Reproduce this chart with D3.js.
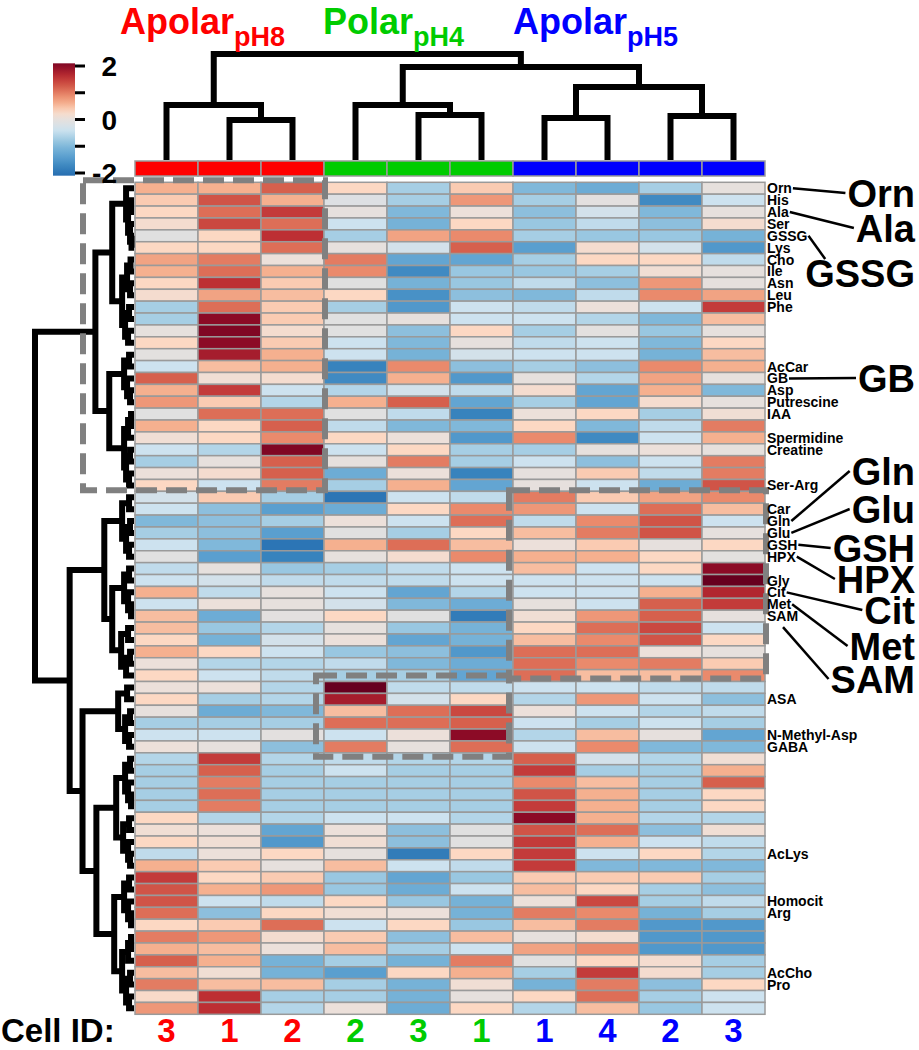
<!DOCTYPE html>
<html><head><meta charset="utf-8">
<script src="https://cdn.jsdelivr.net/npm/d3@7"></script>
<style>
body{margin:0;background:#fff;}
svg{display:block;}
text{font-family:"Liberation Sans",Arial,Helvetica,sans-serif;font-weight:bold;}
</style>
</head><body>
<svg id="chart" width="919" height="1050"></svg>
<script>
// ---------------- DATA ----------------
const cellIds = ["3","1","2","2","3","1","1","4","2","3"];
const colGroups = ["pH8","pH8","pH8","pH4","pH4","pH4","pH5","pH5","pH5","pH5"];
const groupNames = ["pH8","pH4","pH5"];
const groupTitles = ["Apolar","Polar","Apolar"];
const groupSubs = ["pH8","pH4","pH5"];

const rowLabels = ["Orn","His","Ala","Ser","GSSG","Lys","Cho","Ile","Asn","Leu",
 "Phe","","","","","AcCar","GB","Asp","Putrescine","IAA",
 "","Spermidine","Creatine","","","Ser-Arg","","Car","Gln","Glu",
 "GSH","HPX","","Gly","Cit","Met","SAM","","","",
 "","","","ASA","","","N-Methyl-Asp","GABA","","",
 "","","","","","","AcLys","","","",
 "Homocit","Arg","","","","","AcCho","Pro","",""];

const values = [
 [0.6,0.6,1.2,0.3,-0.7,0.4,-1.0,-1.2,-0.7,0],
 [0.4,1.3,0.6,-0.15,-0.7,0.8,-0.7,-0.05,-1.7,-0.4],
 [0.3,1.1,1.5,0,-1.0,0.1,-0.9,-0.3,-1.0,0],
 [0.2,1.4,1.1,-0.4,-1.1,0.3,-0.8,-0.5,-0.9,0.2],
 [-0.1,0.3,1.6,-0.7,0.7,0.9,-0.7,-0.8,-0.8,-1.1],
 [0.3,0.3,1.1,0,-0.3,1.2,-1.4,0.2,-0.3,-1.5],
 [0.7,1.0,0.1,1.0,-1.3,-1.3,-0.7,0.3,0.3,-0.5],
 [0.6,1.1,0.6,0.9,-1.7,-0.8,-0.8,-0.7,0.15,0],
 [0.3,1.6,0.4,-0.1,-1.1,-0.8,-0.5,-0.9,0.8,0],
 [0.2,0.7,0.5,0.3,-1.6,-0.9,-1.0,-0.5,0.9,0.7],
 [-0.7,1.1,0.4,-0.7,-1.5,-0.4,-0.5,0.1,-0.4,1.5],
 [-0.7,2.0,0.4,-0.1,0,-0.4,-0.4,-0.6,-1.0,0.5],
 [0,2.1,0.2,-0.1,-0.9,0.3,-0.7,-0.05,-0.8,0],
 [0.3,2.0,0.4,-0.4,-1.0,0,-0.5,-0.4,-1.0,0.3],
 [-0.05,1.8,0.6,-0.4,-1.1,-0.3,-0.4,-0.4,-1.1,0.5],
 [-0.4,0.5,0.6,-1.8,0.9,-0.9,-0.7,-0.9,0.9,0.6],
 [1.2,0.15,0.2,-1.7,0.6,-1.5,0,-0.6,0.7,0],
 [0.6,1.5,-0.4,-0.6,-0.3,-0.5,0.2,-1.3,0.6,-1.0],
 [0.8,0.4,-0.6,0.6,1.2,-1.3,-0.7,-1.3,0.2,0],
 [-0.1,1.1,1.1,-0.1,-0.5,-1.8,0.1,0.3,-0.7,0.15],
 [0.6,0.3,1.2,-0.5,-1.0,-1.0,0.3,-1.0,-0.5,1.0],
 [0.15,0.3,0.9,0.3,0.1,-1.5,0.9,-1.7,-0.4,0.6],
 [-0.4,-0.6,2.1,-0.4,0.3,-0.7,-0.7,0,0.1,0],
 [-0.7,0,1.2,0,1.0,-0.7,-0.4,-0.9,-0.4,1.0],
 [0.1,0.2,1.2,-1.2,0.1,-1.8,0,0.4,-0.5,1.0],
 [0.3,-0.4,1.0,-0.7,0.6,-1.3,0,-0.4,-1.2,1.3],
 [-0.3,0.4,-0.7,-2.0,-0.4,-0.5,1.0,0.4,0.7,0.9],
 [-0.4,-0.9,-1.4,-1.2,0.3,0.9,0.8,-0.4,1.1,0.5],
 [-1.0,-0.9,-0.7,0.1,-0.4,1.1,-0.5,0.9,1.3,-0.4],
 [-0.7,-0.9,-1.4,-0.1,-0.7,0.3,0.5,1.0,1.3,0],
 [-0.4,-1.0,-2.0,0.6,1.1,0.5,0.1,0.4,0,0.3],
 [-0.1,-1.4,-1.8,0,0.2,0.9,0.6,0.6,0.3,-0.05],
 [-0.5,0,-0.8,-0.7,-0.5,-0.4,0.5,-0.4,0.3,2.0],
 [-0.4,-0.3,-0.5,-0.5,-0.5,-0.4,-0.4,-0.4,-0.4,2.3],
 [0.6,-0.5,0,-0.4,-1.3,-0.6,-0.4,-0.4,0.6,1.7],
 [-0.4,0.1,0,-0.3,-1.0,-1.2,0,-0.4,1.2,1.5],
 [0.5,-1.2,-0.05,0.3,-0.1,-1.9,0.15,0.8,1.2,0],
 [0.5,-0.8,-0.6,0,-0.8,-1.1,0.3,1.1,1.4,-0.4],
 [0.3,-1.1,-0.3,0.1,-1.3,-1.1,0.5,0.9,1.3,0.3],
 [0.6,0.3,-0.4,-0.8,-0.9,-1.5,1.1,1.1,0.1,0],
 [0.1,-0.6,-0.6,-0.5,-1.0,-1.2,1.1,0.9,1.0,0.4],
 [0.3,-0.4,-0.5,-0.7,-0.7,-1.3,1.1,0.5,0.5,0.9],
 [0.1,0.1,-0.6,2.3,-0.5,-0.5,-0.4,-0.4,-0.5,-0.5],
 [0.3,-0.7,-0.6,1.8,-0.3,0.3,-0.6,0.8,-0.4,-0.9],
 [0,-1.2,-1.0,0.5,1.1,1.4,0.1,-0.4,-0.6,-0.5],
 [-0.7,-0.7,-0.7,1.1,1.1,1.2,-0.4,-0.7,-0.4,-0.7],
 [-0.4,-0.4,-0.05,-0.4,0.1,2.0,-0.6,0.5,0,-1.3],
 [0.1,0,-0.9,1.0,0,1.1,-0.4,0.9,-1.0,-1.0],
 [-0.6,1.5,-0.6,-0.5,-0.6,-0.6,1.2,-0.3,-0.6,0.15],
 [-0.7,1.2,-0.7,-0.4,-0.7,-0.7,1.5,-0.7,-0.7,0.6],
 [-0.7,1.0,-0.7,-0.7,-0.7,-0.7,0.9,0.5,-0.7,1.2],
 [-0.7,1.1,-0.7,-0.7,-0.7,-0.7,1.3,0.6,-0.7,0.3],
 [-0.7,1.0,-0.7,-0.7,-0.7,-0.7,1.5,0.6,-0.7,0.3],
 [0.3,-0.6,-0.6,-0.4,-0.4,-0.6,2.0,0.6,-0.6,-0.6],
 [0.15,0.1,-1.3,0.1,-0.9,-0.1,1.3,1.1,-0.9,0.15],
 [0.3,0.15,-1.5,0.15,-0.9,-0.1,1.5,0.6,-0.4,-0.5],
 [-0.5,0.1,0.3,0,-1.9,0.3,1.5,-0.4,0.3,-0.6],
 [0.6,0.4,0,0.5,-0.4,-0.5,1.5,-1.0,-1.0,-1.0],
 [1.5,0.3,0.4,-0.8,-1.3,-0.8,0.4,0.4,0.4,-0.7],
 [1.3,0.6,0.8,-0.8,-1.2,-0.4,0.5,0.3,-0.7,-0.9],
 [1.3,-0.4,-0.5,0.3,-0.8,-1.1,0.1,1.4,-0.7,-0.5],
 [1.1,-0.9,0.3,0.15,0.1,-1.1,1.0,0.9,-1.1,-0.7],
 [0.3,0.4,1.1,-0.4,0.3,-0.8,0.5,1.0,-1.5,-1.5],
 [1.0,0.8,0.2,0.4,-0.9,0.5,0,0.2,-1.5,-1.5],
 [0.6,0.5,0.1,0.5,-0.7,-0.4,0.7,0.9,-1.5,-1.5],
 [1.2,0.6,-1.1,-0.7,-1.1,1.0,-0.1,0.3,0.2,-0.7],
 [0.5,0.15,-1.1,-1.4,0.3,0.6,-0.7,1.5,0.2,-0.7],
 [1.0,0.5,0.5,-0.7,-1.1,0.15,-1.1,1.0,-0.9,0.3],
 [0.25,1.6,-0.7,-0.7,-1.1,0,0.3,1.1,-0.7,-0.4],
 [0.8,1.6,-0.6,0.1,-1.2,0.3,-0.6,0.5,-0.8,-0.4]
];

// column dendrogram: [height, left, right], leaves = column index
const colTree = [10.6, [5.5, 0, [4.0, 1, 2]], [9.3, [5.5, 3, [4.5, 4, 5]], [7.3, [4.2, 6, 7], [4.4, 8, 9]]]];

// row dendrogram: [height, left, right], leaves = row index
const rowTree = [10.0,
  [3.9,
    [2.2,
      [0.8, 0, [0.6, [0.3, 1, 2], [0.4, 3, [0.25, 4, 5]]]],
      [1.2, [0.7, [0.35, 6, 7], [0.4, 8, 9]], [0.9, [0.5, 10, 11], [0.6, 12, 13]]]
    ],
    [2.5,
      [1.0, [0.5, 14, 15], [0.7, 16, [0.4, 17, 18]]],
      [1.0, [0.6, [0.3, 19, 20], 21], [0.8, [0.4, 22, 23], [0.5, 24, 25]]]
    ]
  ],
  [6.5,
    [3.0,
      [1.2, [0.5, 26, 27], [0.8, [0.4, 28, 29], [0.5, 30, 31]]],
      [2.2, [1.0, [0.5, 32, 33], [0.6, 34, [0.3, 35, 36]]], [1.3, [0.6, 37, 38], [0.8, [0.4, 39, 40], 41]]]
    ],
    [5.2,
      [1.6, [0.7, 42, 43], [0.9, [0.4, 44, 45], [0.5, 46, 47]]],
      [3.8,
        [1.8, [0.9, [0.4, 48, 49], [0.6, 50, [0.3, 51, 52]]], [1.1, [0.5, 53, 54], [0.6, 55, [0.4, 56, 57]]]],
        [2.0, [1.0, [0.5, 58, 59], [0.6, 60, [0.3, 61, 62]]], [1.2, [0.6, [0.3, 63, 64], 65], [0.8, [0.4, 66, 67], [0.5, 68, 69]]]]
      ]
    ]
  ]
];

const calloutNames = ["Orn","Ala","GSSG","GB","Gln","Glu","GSH","HPX","Cit","Met","SAM"];
const colorTicks = [2, 1, 0, -1, -2];
const colorTickLabels = ["2", "", "0", "", "-2"];

// ---------------- LAYOUT / STYLE ----------------
const groupColor = {pH8:"#ff0000", pH4:"#00cc00", pH5:"#0000ff"};
const titleX = [120, 323, 513];
const calloutBaseline = [207, 242, 287, 392, 485, 523, 562, 593, 624, 660, 693];

const colorDomain = [-2.2,-1.8,-1.4,-1.0,-0.7,-0.4,-0.1,0.1,0.3,0.6,0.9,1.2,1.6,2.0,2.3];
const colorRange = ["#2166ac","#3783bd","#5a9fcf","#80b8da","#a6cee4","#cde2ef","#e0e0e0","#ece0da","#fcd8c3","#f5b08f","#ea8a6c","#d6604d","#bd2f33","#8c0b26","#67001f"];
const color = d3.scaleLinear().domain(colorDomain).range(colorRange).clamp(true).interpolate(d3.interpolateRgb);

const svg = d3.select("#chart");
const hmLeft = 135, hmRight = 765, hmTop = 182.3, hmBottom = 1014.3;
const x = d3.scaleBand().domain(d3.range(cellIds.length)).range([hmLeft, hmRight]);
const y = d3.scaleBand().domain(d3.range(values.length)).range([hmTop, hmBottom]);

// ---------- heatmap cells ----------
const gCells = svg.append("g");
values.forEach((row, r) => {
  gCells.selectAll(null).data(row).enter().append("rect")
    .attr("x", (d, c) => x(c)).attr("y", y(r))
    .attr("width", x.bandwidth()).attr("height", y.bandwidth())
    .attr("fill", d => color(d))
    .attr("stroke", "#9a9a9a").attr("stroke-width", 1.5);
});

// ---------- column group bar ----------
svg.append("g").selectAll("rect").data(colGroups).enter().append("rect")
  .attr("x", (d, i) => x(i)).attr("y", 161)
  .attr("width", x.bandwidth()).attr("height", 15)
  .attr("fill", d => groupColor[d])
  .attr("stroke", "#9a9a9a").attr("stroke-width", 1.5);

// ---------- dendrograms ----------
const lineStyle = sel => sel.attr("fill", "none").attr("stroke", "#000").attr("stroke-width", 6)
  .attr("stroke-linejoin", "miter").attr("stroke-linecap", "butt");

// column dendrogram
const colH = d3.scaleLinear().domain([0, 10.6]).range([160, 54]);
const gColD = svg.append("g");
function drawCol(node) {
  if (typeof node === "number") return {x: x(node) + x.bandwidth() / 2, y: colH(0)};
  const a = drawCol(node[1]), b = drawCol(node[2]);
  const ny = colH(node[0]);
  gColD.append("path").attr("d", `M${a.x},${a.y}V${ny}H${b.x}V${b.y}`).call(lineStyle);
  return {x: (a.x + b.x) / 2, y: ny};
}
drawCol(colTree);

// row dendrogram
const rowH = d3.scaleLinear().domain([0, 10.0]).range([134, 35]);
const gRowD = svg.append("g");
function drawRow(node) {
  if (typeof node === "number") return {x: rowH(0), y: y(node) + y.bandwidth() / 2};
  const a = drawRow(node[1]), b = drawRow(node[2]);
  const nx = rowH(node[0]);
  gRowD.append("path").attr("d", `M${a.x},${a.y}H${nx}V${b.y}H${b.x}`).call(lineStyle);
  return {x: nx, y: (a.y + b.y) / 2};
}
drawRow(rowTree);

// ---------- dashed cluster boxes ----------
const boxes = [
  {x0: 83, x1: x(3) + 1, y0: y(0) - 2, y1: y(26) - 1},
  {x0: x(6) - 4, x1: hmRight + 1, y0: y(26) - 1, y1: y(42) - 3},
  {x0: x(3) - 8, x1: x(6) - 4, y0: y(42) - 6, y1: y(48) + 4}
];
svg.append("g").selectAll("rect").data(boxes).enter().append("rect")
  .attr("x", d => d.x0).attr("y", d => d.y0)
  .attr("width", d => d.x1 - d.x0).attr("height", d => d.y1 - d.y0)
  .attr("fill", "none").attr("stroke", "#808080").attr("stroke-width", 6)
  .attr("stroke-dasharray", "21 9");

// ---------- row labels ----------
const gLab = svg.append("g");
const labelNodes = {};
rowLabels.forEach((lab, r) => {
  if (!lab) return;
  const t = gLab.append("text").attr("x", hmRight + 2).attr("y", y(r) + y.bandwidth() / 2)
    .attr("dy", "0.36em").attr("font-size", 14).attr("fill", "#000").text(lab);
  labelNodes[lab] = {node: t.node(), r};
});

// ---------- callouts ----------
const gCall = svg.append("g");
calloutNames.forEach((name, i) => {
  const big = gCall.append("text").attr("x", 915).attr("y", calloutBaseline[i])
    .attr("text-anchor", "end").attr("font-size", 38).attr("fill", "#000").text(name);
  const bb = big.node().getBBox();
  const small = labelNodes[name];
  const sLen = small.node.getComputedTextLength();
  const cy = y(small.r) + y.bandwidth() / 2;
  let x1 = hmRight + 2 + sLen + 1, y1 = cy;
  let x2 = bb.x - 2, y2 = calloutBaseline[i] - 14;
  if (name === "SAM") { x1 = hmRight + 18; y1 = cy + 11; }
  if (name === "GSSG") { x2 = bb.x + 20; y2 = bb.y + 6; }
  gCall.append("line").attr("x1", x1).attr("y1", y1).attr("x2", x2).attr("y2", y2)
    .attr("stroke", "#000").attr("stroke-width", 2.5);
});

// ---------- color legend ----------
const cbY = d3.scaleLinear().domain([2, -2]).range([66, 173]);
const defs = svg.append("defs");
const grad = defs.append("linearGradient").attr("id", "cbgrad").attr("x1", 0).attr("x2", 0).attr("y1", 0).attr("y2", 1);
d3.range(0, 1.0001, 0.05).forEach(t => {
  const v = 2.1 - t * 4.2;
  grad.append("stop").attr("offset", t).attr("stop-color", color(v));
});
svg.append("rect").attr("x", 53).attr("y", cbY(2.1)).attr("width", 22).attr("height", cbY(-2.1) - cbY(2.1))
  .attr("fill", "url(#cbgrad)");
const gTicks = svg.append("g");
colorTicks.forEach((v, i) => {
  gTicks.append("line").attr("x1", 75).attr("x2", 85).attr("y1", cbY(v)).attr("y2", cbY(v))
    .attr("stroke", "#000").attr("stroke-width", 3);
  if (colorTickLabels[i]) gTicks.append("text").attr("x", 117).attr("y", cbY(v)).attr("dy", "0.36em")
    .attr("text-anchor", "end").attr("font-size", 28).attr("fill", "#000").text(colorTickLabels[i]);
});

// ---------- group titles ----------
groupNames.forEach((g, i) => {
  const t = svg.append("text").attr("x", titleX[i]).attr("y", 34).attr("fill", groupColor[g]).attr("font-size", 36);
  t.append("tspan").text(groupTitles[i]);
  t.append("tspan").attr("font-size", 27).attr("dy", 12).text(groupSubs[i]);
});

// ---------- cell ID row ----------
svg.append("text").attr("x", 1).attr("y", 1042).attr("font-size", 33).attr("fill", "#000").text("Cell ID:");
svg.append("g").selectAll("text").data(cellIds).enter().append("text")
  .attr("x", (d, i) => x(i) + x.bandwidth() / 2).attr("y", 1042)
  .attr("text-anchor", "middle").attr("font-size", 33)
  .attr("fill", (d, i) => groupColor[colGroups[i]]).text(d => d);
</script>
</body></html>
